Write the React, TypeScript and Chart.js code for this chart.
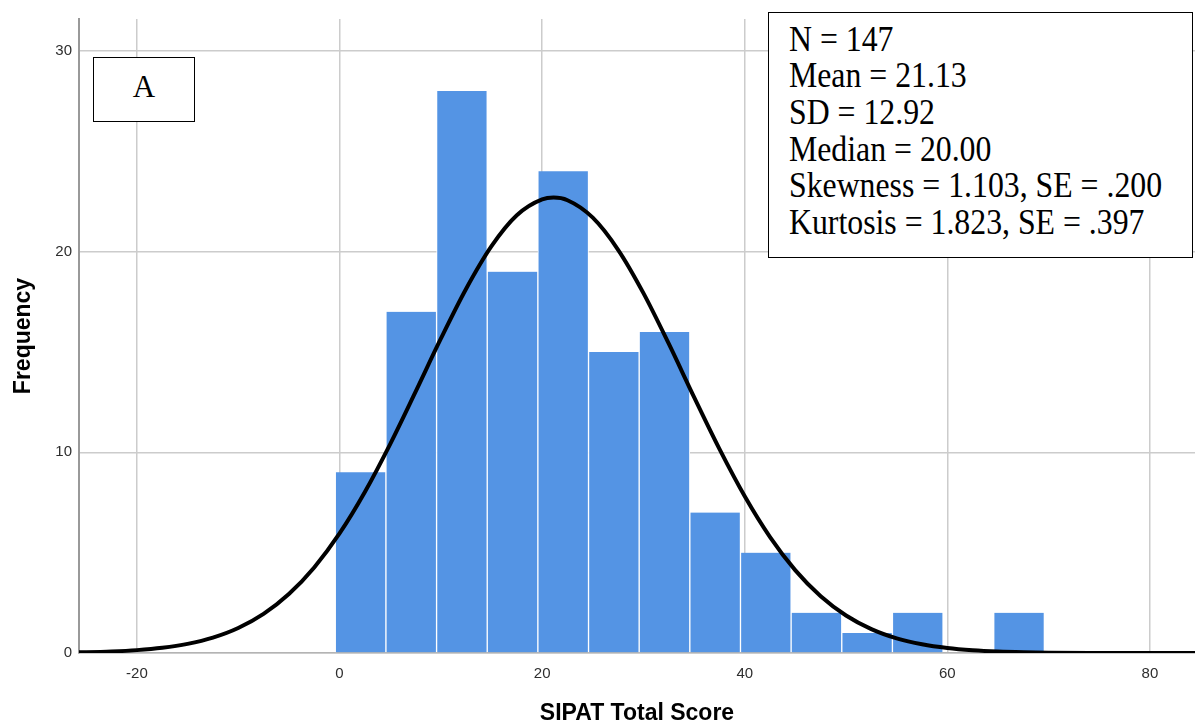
import React, { useEffect, useRef } from "react";
import { Chart, registerables } from "chart.js";

Chart.register(...registerables);

// ---- data ----
const binStarts = [0, 5, 10, 15, 20, 25, 30, 35, 40, 45, 50, 55, 60, 65];
const frequencies = [9, 17, 28, 19, 24, 15, 16, 7, 5, 2, 1, 2, 0, 2];
const curveX = [-27.5, -25, -22.5, -20, -17.5, -15, -12.5, -10, -7.5, -5, -2.5, 0, 2.5, 5, 7.5, 10, 12.5, 15, 17.5, 20, 21.13, 22.5, 25, 27.5, 30, 32.5, 35, 37.5, 40, 42.5, 45, 47.5, 50, 52.5, 55, 57.5, 60, 62.5, 65, 67.5, 70, 75, 80, 87.5];
const curveY = [0.019, 0.039, 0.076, 0.143, 0.26, 0.455, 0.766, 1.245, 1.948, 2.937, 4.262, 5.956, 8.023, 10.41, 13.01, 15.66, 18.15, 20.27, 21.81, 22.6, 22.69, 22.56, 21.69, 20.09, 17.93, 15.41, 12.75, 10.17, 7.81, 5.777, 4.118, 2.828, 1.87, 1.191, 0.73, 0.432, 0.246, 0.135, 0.071, 0.036, 0.018, 0.004, 0.001, 0];
const xTicks = [-20, 0, 20, 40, 60, 80];
const yTicks = [0, 10, 20, 30];
const xTitle = "SIPAT Total Score";
const yTitle = "Frequency";
const panelLabel = "A";
const statsLines = [
  "N = 147",
  "Mean = 21.13",
  "SD = 12.92",
  "Median = 20.00",
  "Skewness = 1.103, SE = .200",
  "Kurtosis = 1.823, SE = .397",
];

// ---- style constants ----
const BIN_WIDTH = 5;
const BAR_SHIFT = -0.42;
const SANS = "'Liberation Sans', Arial, sans-serif";
const SERIF = "'Liberation Serif', 'Times New Roman', serif";

export default function App() {
  const canvasRef = useRef<HTMLCanvasElement | null>(null);

  useEffect(() => {
    document.body.style.margin = "0";
    const canvas = canvasRef.current;
    if (!canvas) return;
    const barData = binStarts.map((s, i) => ({ x: s + BIN_WIDTH / 2 + BAR_SHIFT, y: frequencies[i] }));
    const lineData = curveX.map((x, i) => ({ x, y: curveY[i] }));
    const chart = new Chart(canvas, {
      type: "bar",
      data: {
        datasets: [
          {
            type: "line",
            data: lineData,
            borderColor: "#000000",
            borderWidth: 4,
            pointRadius: 0,
            cubicInterpolationMode: "monotone",
            fill: false,
            order: 0,
          } as any,
          {
            type: "bar",
            data: barData,
            backgroundColor: "#5494e4",
            borderColor: "#ffffff",
            borderWidth: { left: 1, right: 1, top: 0, bottom: 0 },
            borderSkipped: false,
            barPercentage: 1,
            categoryPercentage: 1,
            order: 1,
          } as any,
        ],
      },
      options: {
        animation: false,
        responsive: false,
        maintainAspectRatio: false,
        devicePixelRatio: 1,
        layout: { padding: { top: 19, left: 0, right: 0, bottom: 0 } },
        plugins: { legend: { display: false }, tooltip: { enabled: false } },
        scales: {
          x: {
            type: "linear",
            min: -25.72,
            max: 84.45,
            offset: false,
            afterBuildTicks: (s: any) => {
              s.ticks = xTicks.map((v) => ({ value: v }));
            },
            afterFit: (s: any) => {
              s.height = 73;
            },
            grid: { color: "#cccccc", lineWidth: 1.5, drawTicks: false, offset: false },
            border: { display: true, color: "#b4b4b4", width: 1.5 },
            ticks: {
              padding: 12,
              autoSkip: false,
              maxRotation: 0,
              color: "#2e2e2e",
              font: { family: SANS, size: 15 },
              callback: (v: any) => String(v),
            },
            title: {
              display: true,
              text: xTitle,
              color: "#000000",
              font: { family: SANS, size: 23, weight: "bold" },
              padding: { top: 0, bottom: -1 },
            },
          },
          y: {
            type: "linear",
            min: 0,
            max: 31.59,
            afterBuildTicks: (s: any) => {
              s.ticks = yTicks.map((v) => ({ value: v }));
            },
            afterFit: (s: any) => {
              s.width = 79;
            },
            grid: { color: "#cccccc", lineWidth: 1.5, drawTicks: false },
            border: { display: true, color: "#999999", width: 2 },
            ticks: {
              padding: 7,
              color: "#2e2e2e",
              font: { family: SANS, size: 15 },
              callback: (v: any) => String(v),
            },
            title: {
              display: true,
              text: yTitle,
              color: "#000000",
              font: { family: SANS, size: 23, weight: "bold" },
              padding: { top: 10, bottom: 0 },
            },
          },
        },
      } as any,
    });
    return () => chart.destroy();
  }, []);

  return (
    <div style={{ position: "absolute", left: 0, top: 0, width: 1195, height: 726, background: "#ffffff", overflow: "hidden" }}>
      <canvas ref={canvasRef} width={1195} height={726} style={{ position: "absolute", left: 0, top: 0, width: 1195, height: 726 }} />
      {/* panel label box */}
      <div style={{ position: "absolute", left: 93, top: 57, width: 102, height: 65, boxSizing: "border-box", border: "1.5px solid #000", background: "#fff" }} />
      <div style={{ position: "absolute", left: 93, top: 71, width: 102, textAlign: "center", fontFamily: SERIF, fontSize: 31, lineHeight: "31px", color: "#000" }}>
        {panelLabel}
      </div>
      {/* statistics box */}
      <div style={{ position: "absolute", left: 768, top: 12, width: 425, height: 246, boxSizing: "border-box", border: "1.5px solid #000", background: "#fff" }} />
      <div style={{ position: "absolute", left: 789, top: 21.5, fontFamily: SERIF, fontSize: 35, lineHeight: "36.7px", color: "#000", whiteSpace: "nowrap", transform: "scaleX(0.908)", transformOrigin: "left top" }}>
        {statsLines.map((l, i) => (
          <div key={i}>{l}</div>
        ))}
      </div>
    </div>
  );
}
